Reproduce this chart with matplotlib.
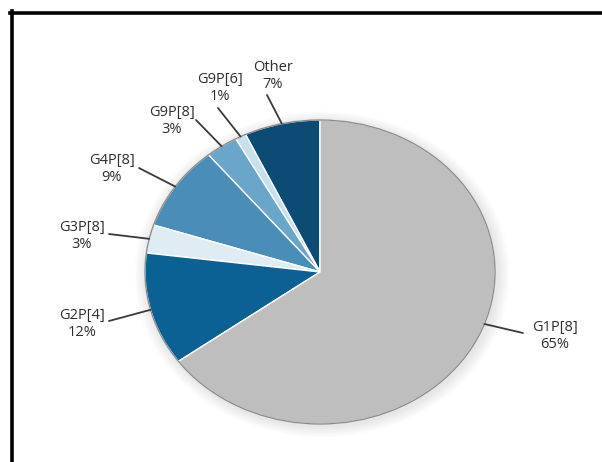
import matplotlib
matplotlib.use("Agg")
import matplotlib.pyplot as plt
from matplotlib.patches import Ellipse
from matplotlib.lines import Line2D
import numpy as np

labels = ["Other", "G9P[6]", "G9P[8]", "G4P[8]", "G3P[8]", "G2P[4]", "G1P[8]"]
values = [7, 1, 3, 9, 3, 12, 65]
pct_labels = ["7%", "1%", "3%", "9%", "3%", "12%", "65%"]
colors = ["#0b4b74", "#c6e0ed", "#6aa6ca", "#4a8db9", "#dfecf4", "#0b6194", "#bebebe"]

W, H = 602, 462
fig = plt.figure(figsize=(W / 100, H / 100), dpi=100)
fig.patch.set_facecolor("white")

# pie geometry (pixels)
cx, cy = 320, 272
rx, ry = 175, 152
lim = 1.5
ax = fig.add_axes([(cx - lim * rx) / W, (H - cy - lim * ry) / H,
                   2 * lim * rx / W, 2 * lim * ry / H])

# soft shadow
for i in range(8):
    s = 1.0 + 0.009 * (i + 1)
    ax.add_patch(Ellipse((0.012, -0.015), 2 * s, 2 * s, facecolor="#000000",
                         alpha=0.010, edgecolor="none", zorder=0))

wedges, _ = ax.pie(values, colors=colors, startangle=90, counterclock=True,
                   radius=1.0, wedgeprops=dict(edgecolor="white", linewidth=1.0))
for w in wedges:
    w.set_zorder(2)
ax.add_patch(Ellipse((0, 0), 2, 2, facecolor="none", edgecolor="#8c8c8c",
                     lw=1.0, zorder=3))
ax.set_aspect("auto")
ax.set_xlim(-lim, lim)
ax.set_ylim(-lim, lim)
ax.axis("off")

# label layout (pixel positions of text block centres and leader starts)
text_pos = [(273, 76), (220, 88), (172, 121), (112, 169), (82, 236), (82, 324), (555, 336)]
line_start = [(267, 95), (218, 108), (196, 120), (139, 168), (109, 234), (109, 321), (523, 333)]
leader_angle_override = {6: 340}

total = sum(values)
cum = 0
for i, v in enumerate(values):
    mid = 90 + (cum + v / 2) / total * 360
    cum += v
    ang = np.deg2rad(leader_angle_override.get(i, mid))
    anchor = (np.cos(ang), np.sin(ang))
    sx, sy = line_start[i]
    ax.annotate("", xy=anchor, xycoords="data",
                xytext=(sx / W, 1 - sy / H), textcoords="figure fraction",
                arrowprops=dict(arrowstyle="-", color="#3a3a3a", lw=1.3,
                                shrinkA=0, shrinkB=0), zorder=4,
                annotation_clip=False)
    tx, ty = text_pos[i]
    fig.text(tx / W, 1 - ty / H, f"{labels[i]}\n{pct_labels[i]}", ha="center",
             va="center", fontsize=10.5, family="Open Sans", color="#2e2e2e",
             linespacing=1.15)

# black frame
fig.add_artist(Line2D([10 / W, 1.0], [1 - 12.5 / H, 1 - 12.5 / H],
                      transform=fig.transFigure, color="black", lw=2.6))
fig.add_artist(Line2D([11.5 / W, 11.5 / W], [1 - 11 / H, 0],
                      transform=fig.transFigure, color="black", lw=2.6))

fig.savefig("out.png", dpi=100)
